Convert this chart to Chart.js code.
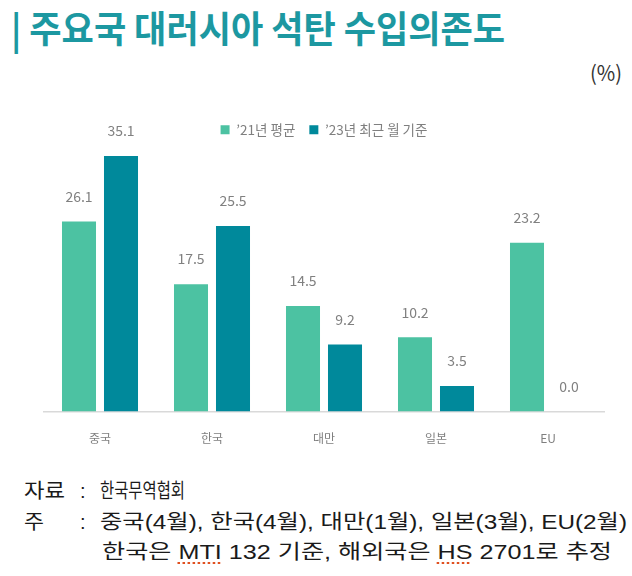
<!DOCTYPE html>
<html>
<head>
<meta charset="utf-8">
<script src="https://cdn.jsdelivr.net/npm/chart.js@4"></script>
<style>
  body { margin: 0; width: 632px; height: 576px; background: #fff; overflow: hidden; position: relative;
         font-family: "Noto Sans CJK KR", "Noto Sans", sans-serif; }
  .abs { position: absolute; white-space: nowrap; line-height: 1; }
  .fit { display: inline-block; transform-origin: 0 50%; }
  #title { left: 11px; top: 9px; color: #1c98a1; font-size: 37px; font-weight: 700; }
  #unit { left: 590px; top: 62px; color: #333; font-size: 21px; }
  .note { color: #1a1a1a; font-size: 20px; font-family: "Liberation Sans", "Noto Sans CJK KR", sans-serif; }
  .spell { text-decoration: underline dotted #e05020; text-underline-offset: 3px; }
  #box { position: absolute; left: 0; top: 100px; width: 632px; height: 372px; }
</style>
</head>
<body>
<div class="abs" id="title"><span class="fit" data-w="494">| 주요국 대러시아 석탄 수입의존도</span></div>
<div class="abs" id="unit"><span class="fit" data-w="32">(%)</span></div>

<div id="box"><canvas id="grafico"></canvas></div>

<div class="abs note" style="left:24px; top:481px;"><span class="fit" data-w="41">자료</span></div>
<div class="abs note" style="left:80px; top:481px;">:</div>
<div class="abs note" style="left:100px; top:481px;"><span class="fit" data-w="85">한국무역협회</span></div>

<div class="abs note" style="left:24px; top:512px;"><span class="fit" data-w="20">주</span></div>
<div class="abs note" style="left:80px; top:512px;">:</div>
<div class="abs note" style="left:100px; top:512px;"><span class="fit" data-w="527">중국(4월), 한국(4월), 대만(1월), 일본(3월), EU(2월)</span></div>

<div class="abs note" style="left:102px; top:542px;"><span class="fit" data-w="510">한국은 <span class="spell">MTI</span> 132 기준, 해외국은 <span class="spell">HS</span> 2701로 추정</span></div>

<script>
const categorias = ['중국', '한국', '대만', '일본', 'EU'];
const media21 = [26.1, 17.5, 14.5, 10.2, 23.2];   // '21년 평균
const recente23 = [35.1, 25.5, 9.2, 3.5, 0.0];    // '23년 최근 월 기준

// fit text widths to the reference
document.querySelectorAll('.fit').forEach(el => {
  const w = el.getBoundingClientRect().width;
  el.style.transform = 'scaleX(' + (Number(el.dataset.w) / w) + ')';
});

// value labels above bars
const rotulos = {
  id: 'rotulos',
  afterDatasetsDraw(chart) {
    const c = chart.ctx;
    c.save();
    c.font = '14px "Noto Sans CJK KR", "Noto Sans", sans-serif';
    c.fillStyle = '#808080';
    c.textAlign = 'center';
    c.textBaseline = 'middle';
    chart.data.datasets.forEach((ds, i) => {
      chart.getDatasetMeta(i).data.forEach((bar, j) => {
        c.fillText(ds.data[j].toFixed(1), bar.x, bar.y - 25);
      });
    });
    c.restore();
  }
};

const ctx = document.getElementById('grafico').getContext('2d');
const grafico = new Chart(ctx, {
  type: 'bar',
  data: {
    labels: categorias,
    datasets: [{
      label: '\u201921년 평균',
      data: media21,
      backgroundColor: '#4cc2a2'
    }, {
      label: '\u201923년 최근 월 기준',
      data: recente23,
      backgroundColor: '#00899b'
    }]
  },
  options: {
    responsive: true,
    maintainAspectRatio: false,
    animation: false,
    categoryPercentage: 0.75,
    barPercentage: 0.81,
    layout: { padding: { left: 44, right: 28, top: 9, bottom: 6 } },
    plugins: {
      legend: {
        position: 'top',
        labels: {
          boxWidth: 9, boxHeight: 9, padding: 14,
          color: '#7f7f7f',
          font: { size: 13.5, family: '"Noto Sans CJK KR", sans-serif' }
        }
      },
      tooltip: { enabled: false }
    },
    scales: {
      x: {
        grid: { display: false, drawTicks: false },
        border: { display: true, color: '#d9d9d9', width: 1.5 },
        ticks: { color: '#7f7f7f', padding: 20, font: { size: 12, family: '"Noto Sans CJK KR", sans-serif' } }
      },
      y: {
        display: false,
        min: 0,
        max: 36.4
      }
    }
  },
  plugins: [rotulos]
});
</script>
</body>
</html>
